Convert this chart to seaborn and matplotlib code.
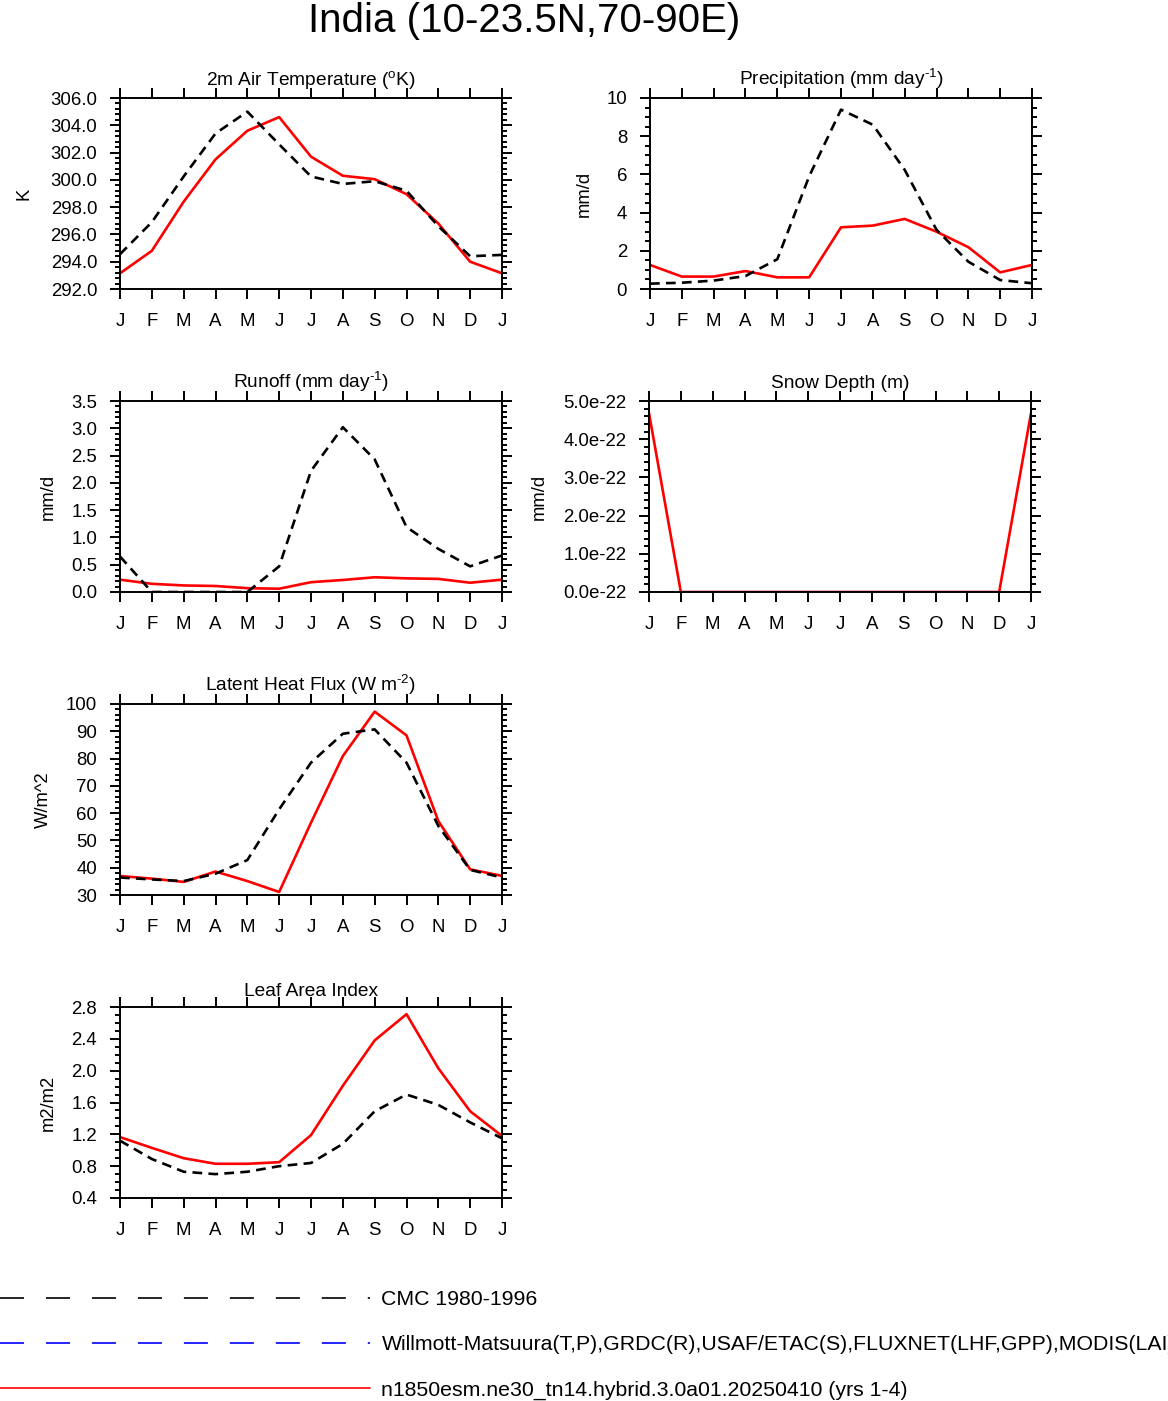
import matplotlib
matplotlib.use('Agg')
import matplotlib.pyplot as plt
import seaborn as sns
from matplotlib.ticker import MultipleLocator, FuncFormatter, FormatStrFormatter
from matplotlib.lines import Line2D

# ---------------- data (J..D, J) ----------------
months = ['J', 'F', 'M', 'A', 'M', 'J', 'J', 'A', 'S', 'O', 'N', 'D', 'J']
month_pos = list(range(13))

tsa_obs = [294.55, 296.9, 300.25, 303.4, 305.0, 302.6, 300.25, 299.7, 299.9, 299.2, 296.6, 294.4, 294.5]
tsa_mod = [293.15, 294.8, 298.4, 301.5, 303.6, 304.6, 301.7, 300.3, 300.05, 298.95, 296.8, 294.0, 293.15]

prc_obs = [0.28, 0.33, 0.44, 0.68, 1.56, 5.9, 9.39, 8.6, 6.24, 3.1, 1.43, 0.47, 0.3]
prc_mod = [1.26, 0.65, 0.65, 0.94, 0.61, 0.61, 3.23, 3.32, 3.67, 3.0, 2.19, 0.87, 1.26]

ro_obs = [0.65, 0.0, 0.0, 0.0, 0.0, 0.47, 2.22, 3.02, 2.43, 1.19, 0.79, 0.47, 0.67]
ro_mod = [0.226, 0.15, 0.12, 0.11, 0.07, 0.06, 0.18, 0.22, 0.27, 0.25, 0.24, 0.17, 0.226]

snow_obs = [0.0] * 13
snow_mod = [4.68e-22, 0, 0, 0, 0, 0, 0, 0, 0, 0, 0, 0, 4.68e-22]

lhf_obs = [36.4, 35.7, 35.1, 37.8, 42.8, 61.4, 78.5, 89.1, 90.7, 78.5, 55.3, 39.2, 36.4]
lhf_mod = [36.96, 36.0, 34.8, 38.6, 35.1, 31.1, 56.5, 80.9, 97.2, 88.5, 57.1, 39.4, 37.0]

lai_obs = [1.12, 0.89, 0.73, 0.70, 0.73, 0.80, 0.84, 1.08, 1.49, 1.70, 1.57, 1.35, 1.15]
lai_mod = [1.165, 1.03, 0.90, 0.83, 0.83, 0.85, 1.19, 1.81, 2.38, 2.71, 2.03, 1.49, 1.18]

legend_labels = ['CMC 1980-1996',
                 'Willmott-Matsuura(T,P),GRDC(R),USAF/ETAC(S),FLUXNET(LHF,GPP),MODIS(LAI)',
                 'n1850esm.ne30_tn14.hybrid.3.0a01.20250410 (yrs 1-4)']

# ---------------- style ----------------
sns.set_style('ticks')
plt.rcParams['font.family'] = ['Liberation Sans', 'DejaVu Sans']
plt.rcParams['mathtext.fontset'] = 'custom'
plt.rcParams['mathtext.rm'] = 'Liberation Sans'
plt.rcParams['mathtext.it'] = 'Liberation Sans:italic'
plt.rcParams['mathtext.default'] = 'regular'
plt.rcParams['lines.scale_dashes'] = False
for k in ['text.color', 'axes.labelcolor', 'xtick.color', 'ytick.color', 'axes.edgecolor']:
    plt.rcParams[k] = 'black'

W, H = 1168, 1401
fig = plt.figure(figsize=(W / 100, H / 100), dpi=100)


def frac_box(x0, x1, ytop, ybot):
    return [x0 / W, 1 - ybot / H, (x1 - x0) / W, (ybot - ytop) / H]


def snow_fmt(v, pos):
    return f"{v / 1e-22:.1f}e-22"


panels = [
    dict(title=r'2m Air Temperature ($^{o}$K)', ylabel='K', obs=tsa_obs, mod=tsa_mod,
         ylim=(292, 306), major=2, minor=0.4, fmt=FormatStrFormatter('%.1f'),
         box=frac_box(120, 502, 98, 289), ty=1.068, lx=-0.228),
    dict(title=r'Precipitation (mm day$^{\text{-1}}$)', ylabel='mm/d', obs=prc_obs, mod=prc_mod,
         ylim=(0, 10), major=2, minor=0.5, fmt=FormatStrFormatter('%d'),
         box=frac_box(650, 1032, 98, 289), ty=1.068, lx=-0.149),
    dict(title=r'Runoff (mm day$^{\text{-1}}$)', ylabel='mm/d', obs=ro_obs, mod=ro_mod,
         ylim=(0, 3.5), major=0.5, minor=0.1, fmt=FormatStrFormatter('%.1f'),
         box=frac_box(120, 502, 401, 592), ty=1.068, lx=-0.165),
    dict(title='Snow Depth (m)', ylabel='mm/d', obs=snow_obs, mod=snow_mod,
         ylim=(0, 5e-22), major=1e-22, minor=0.2e-22, fmt=FuncFormatter(snow_fmt),
         box=frac_box(649, 1031, 401, 592), ty=1.068, lx=-0.264),
    dict(title=r'Latent Heat Flux (W m$^{\text{-2}}$)', ylabel='W/m^2', obs=lhf_obs, mod=lhf_mod,
         ylim=(30, 100), major=10, minor=2, fmt=FormatStrFormatter('%d'),
         box=frac_box(120, 502, 704, 895), ty=1.07, lx=-0.178),
    dict(title='Leaf Area Index', ylabel='m2/m2', obs=lai_obs, mod=lai_mod,
         ylim=(0.4, 2.8), major=0.4, minor=0.1, fmt=FormatStrFormatter('%.1f'),
         box=frac_box(120, 502, 1007, 1198), ty=1.058, lx=-0.165),
]

obs_dash = (0, (7, 4.5))

for p in panels:
    ax = fig.add_axes(p['box'])
    sns.lineplot(x=month_pos, y=p['mod'], ax=ax, color='red', lw=1.9)
    sns.lineplot(x=month_pos, y=p['obs'], ax=ax, color='black', lw=1.9, linestyle=obs_dash)
    ax.set_xlim(0, 12)
    ax.set_ylim(*p['ylim'])
    ax.set_xticks(month_pos)
    ax.set_xticklabels(months)
    ax.yaxis.set_major_locator(MultipleLocator(p['major']))
    ax.yaxis.set_minor_locator(MultipleLocator(p['minor']))
    ax.yaxis.set_major_formatter(p['fmt'])
    ax.tick_params(which='both', direction='out', top=True, right=True,
                   labeltop=False, labelright=False, color='black', width=1.4)
    ax.tick_params(which='major', length=7.2, labelsize=13.4, pad=9.2)
    ax.tick_params(axis='x', which='major', pad=10)
    ax.tick_params(which='minor', length=3.6)
    ax.tick_params(axis='x', which='minor', bottom=False, top=False)
    for s in ax.spines.values():
        s.set_linewidth(1.4)
        s.set_color('black')
        s.set_visible(True)
    ax.set_xlabel('')
    ax.set_ylabel(p['ylabel'], fontsize=13.2)
    ax.yaxis.set_label_coords(p['lx'], 0.5)
    ax.text(0.5, p['ty'], p['title'], transform=ax.transAxes, ha='center',
            va='baseline', fontsize=13.8)
    ax.grid(False)

fig.text(524 / W, 1 - 32 / H, 'India (10-23.5N,70-90E)', ha='center', va='baseline',
         fontsize=29)

handles = [
    Line2D([], [], color='black', lw=1.2, linestyle=(0, (17.3, 15.8))),
    Line2D([], [], color='blue', lw=1.2, linestyle=(0, (17.3, 15.8))),
    Line2D([], [], color='red', lw=1.2),
]
fig.legend(handles, legend_labels, loc='upper left', bbox_to_anchor=(0, 1 - 1290 / H),
           frameon=False, fontsize=15.3, handlelength=17.4, handletextpad=0.55,
           borderpad=0, borderaxespad=0, labelspacing=1.24)

fig.savefig('out.png', dpi=100)
